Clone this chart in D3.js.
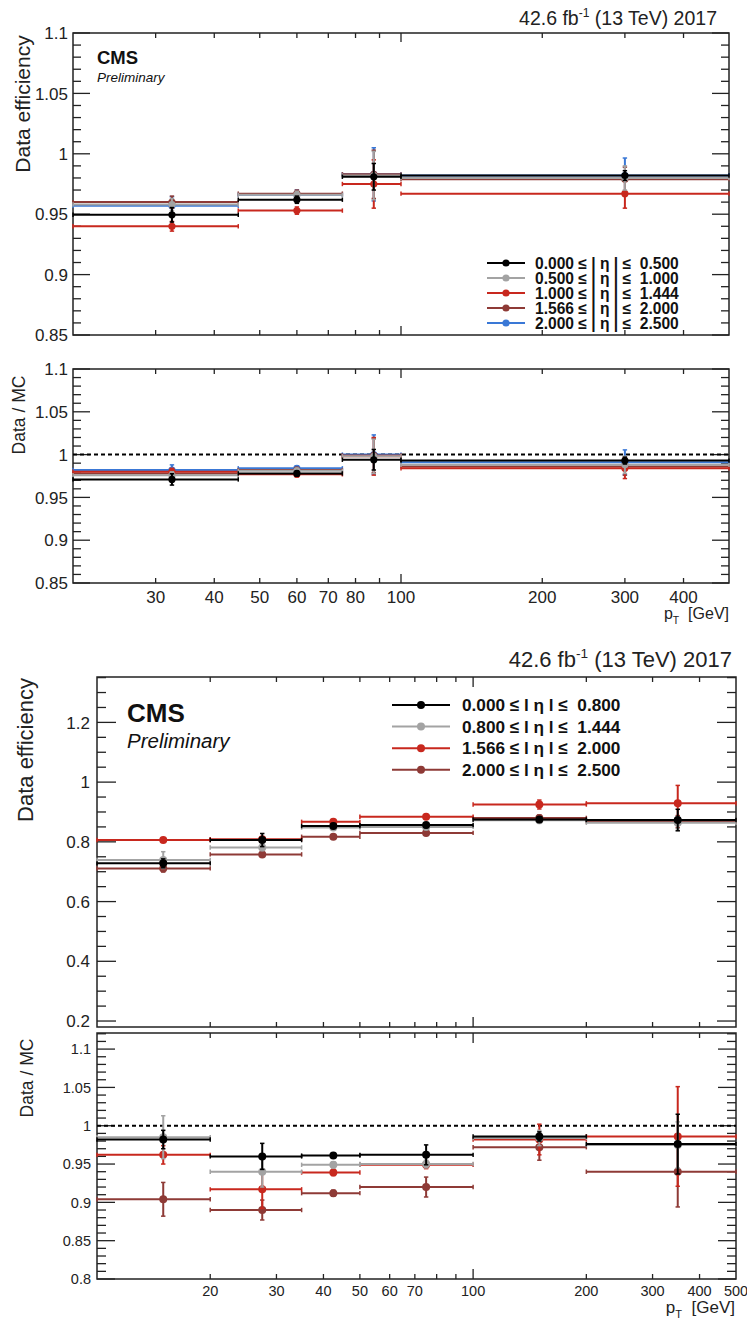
<!DOCTYPE html>
<html><head><meta charset="utf-8">
<script src="https://cdn.jsdelivr.net/npm/d3@7/dist/d3.min.js"></script>
<style>body{margin:0;background:#fff} svg{display:block;font-family:"Liberation Sans",Arial,Helvetica,sans-serif}</style>
</head><body><svg id="c" width="747" height="1320"></svg>
<script>
// ---------------- DATA: upper figure ----------------
const binEdgesA = [20, 45, 75, 100, 500];
const binCentersA = [32.5, 60, 87.5, 300];
const etaLabelsA = ["0.000 \u2264 | \u03b7 | \u2264  0.500", "0.500 \u2264 | \u03b7 | \u2264  1.000", "1.000 \u2264 | \u03b7 | \u2264  1.444", "1.566 \u2264 | \u03b7 | \u2264  2.000", "2.000 \u2264 | \u03b7 | \u2264  2.500"];
const effA0 = [0.9495, 0.962, 0.981, 0.982], effErrA0 = [0.006, 0.003, 0.011, 0.004];
const effA1 = [0.958, 0.966, 0.982, 0.980], effErrA1 = [0.005, 0.003, 0.020, 0.010];
const effA2 = [0.940, 0.953, 0.975, 0.967], effErrA2 = [0.004, 0.003, 0.020, 0.012];
const effA3 = [0.960, 0.967, 0.983, 0.979], effErrA3 = [0.005, 0.003, 0.020, 0.010];
const effA4 = [0.957, 0.966, 0.983, 0.982], effErrA4 = [0.0075, 0.004, 0.022, 0.0145];
const ratA0 = [0.971, 0.978, 0.994, 0.993], ratErrA0 = [0.0066, 0.003, 0.012, 0.004];
const ratA1 = [0.976, 0.981, 0.998, 0.988], ratErrA1 = [0.004, 0.003, 0.020, 0.010];
const ratA2 = [0.980, 0.977, 0.998, 0.984], ratErrA2 = [0.004, 0.003, 0.022, 0.012];
const ratA3 = [0.978, 0.982, 0.999, 0.986], ratErrA3 = [0.005, 0.003, 0.020, 0.010];
const ratA4 = [0.982, 0.984, 1.000, 0.991], ratErrA4 = [0.006, 0.003, 0.023, 0.0145];
const effTicksA = [0.85, 0.9, 0.95, 1, 1.05, 1.1];
const ratTicksA = [0.85, 0.9, 0.95, 1, 1.05, 1.1];
const ptTickLabelsA = [30, 40, 50, 60, 70, 80, 100, 200, 300, 400];
const ptMinorA = [30, 40, 50, 60, 70, 80, 90, 200, 300, 400];

// ---------------- DATA: lower figure ----------------
const binEdgesB = [10, 20, 35, 50, 100, 200, 500];
const binCentersB = [15, 27.5, 42.5, 75, 150, 350];
const etaLabelsB = ["0.000 \u2264 l \u03b7 l \u2264  0.800", "0.800 \u2264 l \u03b7 l \u2264  1.444", "1.566 \u2264 l \u03b7 l \u2264  2.000", "2.000 \u2264 l \u03b7 l \u2264  2.500"];
const effB0 = [0.728, 0.806, 0.853, 0.856, 0.875, 0.873], effErrB0 = [0.015, 0.022, 0.008, 0.008, 0.008, 0.036];
const effB1 = [0.739, 0.781, 0.848, 0.850, 0.872, 0.864], effErrB1 = [0.028, 0.010, 0.006, 0.006, 0.010, 0.020];
const effB2 = [0.806, 0.809, 0.867, 0.884, 0.925, 0.929], effErrB2 = [0.005, 0.006, 0.005, 0.005, 0.015, 0.060];
const effB3 = [0.711, 0.758, 0.817, 0.830, 0.880, 0.868], effErrB3 = [0.012, 0.008, 0.005, 0.005, 0.010, 0.020];
const ratB0 = [0.982, 0.960, 0.961, 0.962, 0.986, 0.976], ratErrB0 = [0.012, 0.017, 0.003, 0.013, 0.006, 0.039];
const ratB1 = [0.985, 0.940, 0.949, 0.950, 0.984, 0.975], ratErrB1 = [0.028, 0.020, 0.004, 0.005, 0.010, 0.030];
const ratB2 = [0.962, 0.917, 0.939, 0.949, 0.982, 0.986], ratErrB2 = [0.012, 0.025, 0.004, 0.005, 0.020, 0.065];
const ratB3 = [0.904, 0.890, 0.912, 0.920, 0.972, 0.940], ratErrB3 = [0.022, 0.013, 0.004, 0.013, 0.017, 0.046];
const effTicksB = [0.2, 0.4, 0.6, 0.8, 1, 1.2];
const ratTicksB = [0.8, 0.85, 0.9, 0.95, 1, 1.05, 1.1];
const ptTickLabelsB = [20, 30, 40, 50, 60, 70, 100, 200, 300, 400, 500];
const ptMinorB = [20, 30, 40, 50, 60, 70, 80, 90, 200, 300, 400];

// ---------------- styles ----------------
const colorsA = ["#000000", "#a3a3a3", "#c8281e", "#8e3a36", "#3a78d6"];
const colorsB = ["#000000", "#a3a3a3", "#c8281e", "#8e3a36"];
const FRAME = "#222";

const svg = d3.select("#c");

function fmt(v) { return (+v.toFixed(3)).toString(); }

function drawFrame(p) {
  const g = svg.append("g");
  g.append("rect").attr("x", p.x0).attr("y", p.y0).attr("width", p.x1 - p.x0).attr("height", p.y1 - p.y0)
    .attr("fill", "none").attr("stroke", FRAME).attr("stroke-width", 1.5);
  const [ylo, yhi] = p.ys.domain();
  const nMinor = Math.round((yhi - ylo) / p.yMinorStep) + 2;
  for (let k = -1; k < nMinor; k++) {
    const v = +(Math.ceil(ylo / p.yMinorStep) * p.yMinorStep + k * p.yMinorStep).toFixed(4);
    if (v < ylo - 1e-9 || v > yhi + 1e-9) continue;
    const isMaj = p.yMajor.some(t => Math.abs(t - v) < 1e-6);
    const len = isMaj ? p.yMajLen : p.yMinLen;
    const yy = p.ys(v);
    g.append("line").attr("x1", p.x0).attr("x2", p.x0 + len).attr("y1", yy).attr("y2", yy).attr("stroke", FRAME).attr("stroke-width", 1.3);
    g.append("line").attr("x1", p.x1).attr("x2", p.x1 - len).attr("y1", yy).attr("y2", yy).attr("stroke", FRAME).attr("stroke-width", 1.3);
  }
  p.yMajor.forEach(t => {
    g.append("text").attr("x", p.yLabX).attr("y", p.ys(t)).attr("dy", "0.36em").attr("text-anchor", "end")
      .attr("font-size", p.yFont).attr("fill", "#222").text(fmt(t));
  });
  p.xMinor.forEach(t => {
    const xx = p.xs(t);
    g.append("line").attr("x1", xx).attr("x2", xx).attr("y1", p.y0).attr("y2", p.y0 + p.xMinLen).attr("stroke", FRAME).attr("stroke-width", 1.3);
    g.append("line").attr("x1", xx).attr("x2", xx).attr("y1", p.y1).attr("y2", p.y1 - p.xMinLen).attr("stroke", FRAME).attr("stroke-width", 1.3);
  });
  p.xMajor.forEach(t => {
    const xx = p.xs(t);
    g.append("line").attr("x1", xx).attr("x2", xx).attr("y1", p.y0).attr("y2", p.y0 + p.xMajLen).attr("stroke", FRAME).attr("stroke-width", 1.3);
    g.append("line").attr("x1", xx).attr("x2", xx).attr("y1", p.y1).attr("y2", p.y1 - p.xMajLen).attr("stroke", FRAME).attr("stroke-width", 1.3);
  });
  if (p.xLabels) {
    p.xLabels.forEach(t => {
      g.append("text").attr("x", p.xs(t)).attr("y", p.xLabY).attr("text-anchor", "middle")
        .attr("font-size", p.xFont).attr("fill", "#222").text(t);
    });
  }
  return g;
}

function drawSeries(xs, ys, edges, centers, vals, errs, color, r, lw) {
  const grp = svg.append("g").attr("stroke", color).attr("fill", color);
  vals.forEach((v, i) => {
    const xa = xs(edges[i]), xb = xs(edges[i + 1]), yv = ys(v), xc = xs(centers[i]);
    grp.append("line").attr("x1", xa).attr("x2", xb).attr("y1", yv).attr("y2", yv).attr("stroke-width", lw);
    [xa, xb].forEach(xx => grp.append("line").attr("x1", xx).attr("x2", xx).attr("y1", yv - 2.2).attr("y2", yv + 2.2).attr("stroke-width", 1.5));
    const yl = ys(v - errs[i]), yh = ys(v + errs[i]);
    grp.append("line").attr("x1", xc).attr("x2", xc).attr("y1", yl).attr("y2", yh).attr("stroke-width", lw);
    [yl, yh].forEach(yy => grp.append("line").attr("x1", xc - 2.2).attr("x2", xc + 2.2).attr("y1", yy).attr("y2", yy).attr("stroke-width", 1.5));
    grp.append("circle").attr("cx", xc).attr("cy", yv).attr("r", r).attr("stroke", "none");
  });
}

function dashedOne(xs, ys, dom) {
  svg.append("line").attr("x1", xs(dom[0])).attr("x2", xs(dom[1])).attr("y1", ys(1)).attr("y2", ys(1))
    .attr("stroke", "#000").attr("stroke-width", 2).attr("stroke-dasharray", "4,3");
}

function header(xRight, yBase, size) {
  const t = svg.append("text").attr("x", xRight).attr("y", yBase).attr("text-anchor", "end").attr("font-size", size).attr("fill", "#222");
  t.append("tspan").text("42.6 fb");
  t.append("tspan").attr("dy", -size * 0.4).attr("font-size", size * 0.62).text("-1");
  t.append("tspan").attr("dy", size * 0.4).text(" (13 TeV) 2017");
}

function ptLabel(xRight, yBase, size) {
  const t = svg.append("text").attr("x", xRight).attr("y", yBase).attr("text-anchor", "end").attr("font-size", size).attr("fill", "#222");
  t.append("tspan").text("p");
  t.append("tspan").attr("dy", size * 0.3).attr("font-size", size * 0.65).text("T");
  t.append("tspan").attr("dy", -size * 0.3).text("\u00a0\u00a0[GeV]");
}

function yTitle(x, yc, size, txt) {
  svg.append("text").attr("transform", `translate(${x},${yc}) rotate(-90)`).attr("text-anchor", "middle")
    .attr("font-size", size).attr("fill", "#222").text(txt);
}

// ================= Upper figure =================
{
  const xs = d3.scaleLog().domain([20, 500]).range([73, 729]);
  const ysE = d3.scaleLinear().domain([0.85, 1.1]).range([335, 33]);
  const ysR = d3.scaleLinear().domain([0.85, 1.1]).range([583, 369]);
  const common = { x0: 73, x1: 729, xs, yMinorStep: 0.01, yMajLen: 17, yMinLen: 8, xMinor: ptMinorA, xMajor: [100], xMinLen: 5, xMajLen: 9, yLabX: 68, yFont: 17 };
  drawFrame(Object.assign({}, common, { y0: 33, y1: 335, ys: ysE, yMajor: effTicksA }));
  drawFrame(Object.assign({}, common, { y0: 369, y1: 583, ys: ysR, yMajor: ratTicksA, xLabels: ptTickLabelsA, xLabY: 603, xFont: 17 }));
  dashedOne(xs, ysR, [20, 500]);
  const eff = [effA0, effA1, effA2, effA3, effA4], effE = [effErrA0, effErrA1, effErrA2, effErrA3, effErrA4];
  const rat = [ratA0, ratA1, ratA2, ratA3, ratA4], ratE = [ratErrA0, ratErrA1, ratErrA2, ratErrA3, ratErrA4];
  for (let s = eff.length - 1; s >= 0; s--) {
    drawSeries(xs, ysE, binEdgesA, binCentersA, eff[s], effE[s], colorsA[s], 3.6, 2);
    drawSeries(xs, ysR, binEdgesA, binCentersA, rat[s], ratE[s], colorsA[s], 3.6, 2);
  }
  etaLabelsA.forEach((lab, i) => {
    const yy = 263 + i * 15;
    svg.append("line").attr("x1", 487).attr("x2", 525).attr("y1", yy).attr("y2", yy).attr("stroke", colorsA[i]).attr("stroke-width", 2);
    svg.append("circle").attr("cx", 506).attr("cy", yy).attr("r", 3.6).attr("fill", colorsA[i]);
    svg.append("text").attr("x", 535).attr("y", yy).attr("dy", "0.36em").attr("font-size", 15.6).attr("font-weight", "bold").attr("fill", "#111").style("white-space", "pre").text(lab);
  });
  header(717, 25, 19.5);
  svg.append("text").attr("x", 97).attr("y", 64).attr("font-size", 18.5).attr("font-weight", "bold").attr("fill", "#111").text("CMS");
  svg.append("text").attr("x", 97).attr("y", 82).attr("font-size", 13.5).attr("font-style", "italic").attr("fill", "#111").text("Preliminary");
  yTitle(29.5, 104, 21, "Data efficiency");
  yTitle(25, 415, 17.5, "Data / MC");
  ptLabel(729, 619, 16);
}

// ================= Lower figure =================
{
  const xs = d3.scaleLog().domain([10, 500]).range([97, 736]);
  const ysE = d3.scaleLinear().domain([0.18, 1.352]).range([1027, 677]);
  const ysR = d3.scaleLinear().domain([0.8, 1.121]).range([1279, 1033]);
  const common = { x0: 97, x1: 736, xs, xMinor: ptMinorB, xMajor: [100], xMinLen: 5, xMajLen: 10 };
  drawFrame(Object.assign({}, common, { y0: 677, y1: 1027, ys: ysE, yMajor: effTicksB, yMinorStep: 0.05, yMajLen: 19, yMinLen: 9, yLabX: 90, yFont: 17 }));
  drawFrame(Object.assign({}, common, { y0: 1033, y1: 1279, ys: ysR, yMajor: ratTicksB, yMinorStep: 0.01, yMajLen: 18, yMinLen: 9, yLabX: 91, yFont: 14.5, xLabels: ptTickLabelsB, xLabY: 1296, xFont: 14.5 }));
  dashedOne(xs, ysR, [10, 500]);
  const eff = [effB0, effB1, effB2, effB3], effE = [effErrB0, effErrB1, effErrB2, effErrB3];
  const rat = [ratB0, ratB1, ratB2, ratB3], ratE = [ratErrB0, ratErrB1, ratErrB2, ratErrB3];
  for (let s = eff.length - 1; s >= 0; s--) {
    drawSeries(xs, ysE, binEdgesB, binCentersB, eff[s], effE[s], colorsB[s], 4, 2);
    drawSeries(xs, ysR, binEdgesB, binCentersB, rat[s], ratE[s], colorsB[s], 4, 2);
  }
  etaLabelsB.forEach((lab, i) => {
    const yy = 705 + i * 21.6;
    svg.append("line").attr("x1", 392).attr("x2", 450).attr("y1", yy).attr("y2", yy).attr("stroke", colorsB[i]).attr("stroke-width", 2);
    svg.append("circle").attr("cx", 421).attr("cy", yy).attr("r", 4).attr("fill", colorsB[i]);
    svg.append("text").attr("x", 462).attr("y", yy).attr("dy", "0.36em").attr("font-size", 17.2).attr("font-weight", "bold").attr("fill", "#111").style("white-space", "pre").text(lab);
  });
  header(732, 667, 22);
  svg.append("text").attr("x", 127).attr("y", 722).attr("font-size", 26).attr("font-weight", "bold").attr("fill", "#111").text("CMS");
  svg.append("text").attr("x", 127).attr("y", 748).attr("font-size", 20.5).attr("font-style", "italic").attr("fill", "#111").text("Preliminary");
  yTitle(33, 750, 22, "Data efficiency");
  yTitle(33, 1078, 17.5, "Data / MC");
  ptLabel(735, 1313, 17);
}
</script></body></html>
